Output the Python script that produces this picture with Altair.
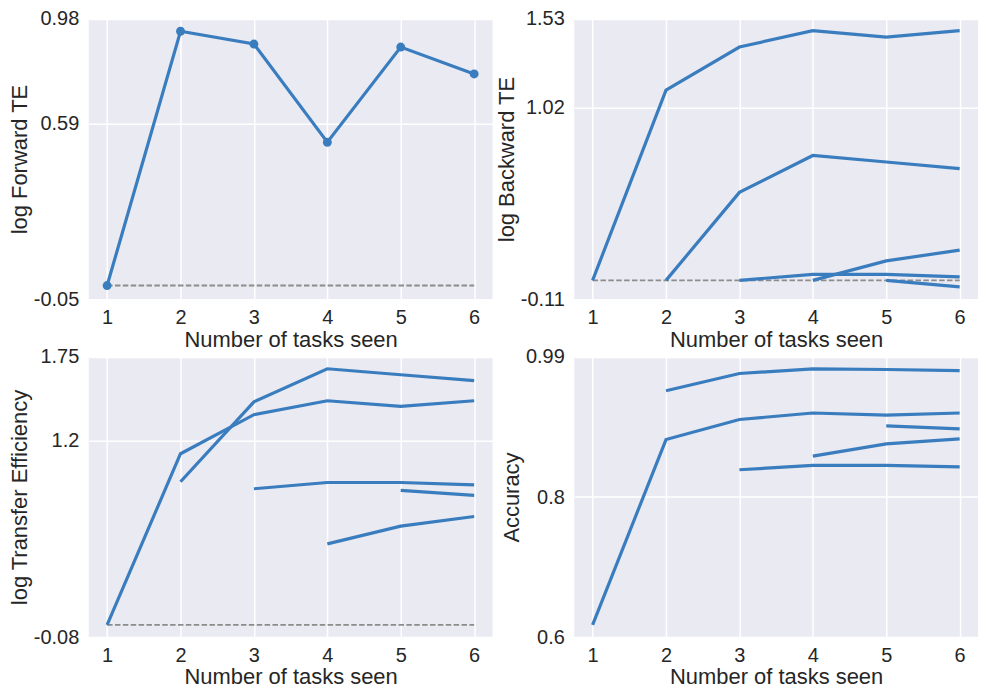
import altair as alt
import pandas as pd

# ---------------- data ----------------
tasks_seen = [1, 2, 3, 4, 5, 6]

# Panel 1: log forward TE (one value per task)
fte_values = [0.0, 0.935, 0.888, 0.527, 0.877, 0.778]

# Panel 2: log backward TE, one series per task (starting when the task is seen)
bte_task1 = [0.0, 1.114, 1.366, 1.462, 1.424, 1.462]
bte_task2 = [0.0, 0.515, 0.731, 0.693, 0.654]
bte_task3 = [0.0, 0.035, 0.035, 0.020]
bte_task4 = [0.0, 0.114, 0.177]
bte_task5 = [0.0, -0.038]

# Panel 3: log transfer efficiency
te_task1 = [0.0, 1.118, 1.373, 1.464, 1.427, 1.464]
te_task2 = [0.935, 1.457, 1.673, 1.634, 1.595]
te_task3 = [0.889, 0.930, 0.930, 0.915]
te_task4 = [0.529, 0.645, 0.708]
te_task5 = [0.879, 0.846]

# Panel 4: accuracy
acc_task1 = [0.617, 0.875, 0.903, 0.912, 0.909, 0.912]
acc_task2 = [0.943, 0.967, 0.9735, 0.9726, 0.971]
acc_task3 = [0.833, 0.839, 0.839, 0.837]
acc_task4 = [0.852, 0.869, 0.876]
acc_task5 = [0.894, 0.890]

# axis settings
fte_ticks, fte_labels = [-0.05, 0.594, 0.98], ["-0.05", "0.59", "0.98"]
bte_ticks, bte_labels = [-0.11, 1.012, 1.53], ["-0.11", "1.02", "1.53"]
te_ticks, te_labels = [-0.08, 1.204, 1.75], ["-0.08", "1.2", "1.75"]
acc_ticks, acc_labels = [0.6, 0.795, 0.99], ["0.6", "0.8", "0.99"]

BLUE = "#3a7dbf"
GREY = "#8c8c8c"
FONT = "Liberation Sans"
TEXT = "#262626"


def series_frame(series_list):
    rows = []
    for k, vals in enumerate(series_list):
        start = k + 1
        for j, v in enumerate(vals):
            rows.append({"task": k + 1, "n": start + j, "v": v})
    return pd.DataFrame(rows)


def label_expr(ticks, labels):
    expr = f"'{labels[-1]}'"
    for i in range(len(ticks) - 2, -1, -1):
        mid = (ticks[i] + ticks[i + 1]) / 2
        expr = f"datum.value < {mid} ? '{labels[i]}' : ({expr})"
    return expr


x_enc = alt.X(
    "n:Q",
    title="Number of tasks seen",
    scale=alt.Scale(domain=[0.75, 6.25], nice=False, zero=False),
    axis=alt.Axis(values=tasks_seen, format="d"),
)

baseline = pd.DataFrame({"n": [1, 6], "v": [0.0, 0.0], "task": [0, 0]})


def panel(df, ticks, labels, ytitle, dashed=True, points=False):
    y_enc = alt.Y(
        "v:Q",
        title=ytitle,
        scale=alt.Scale(domain=[ticks[0], ticks[-1]], nice=False, zero=False),
        axis=alt.Axis(values=ticks, labelExpr=label_expr(ticks, labels)),
    )
    layers = []
    if dashed:
        layers.append(
            alt.Chart(baseline)
            .mark_line(color=GREY, strokeWidth=1.9, strokeDash=[5.5, 2.4])
            .encode(x=x_enc, y=y_enc)
        )
    layers.append(
        alt.Chart(df)
        .mark_line(color=BLUE, strokeWidth=3.2)
        .encode(x=x_enc, y=y_enc, detail="task:N")
    )
    if points:
        layers.append(
            alt.Chart(df)
            .mark_circle(color=BLUE, size=80, opacity=1)
            .encode(x=x_enc, y=y_enc)
        )
    return alt.layer(*layers).properties(width=405, height=281)


p1 = panel(
    pd.DataFrame({"task": 1, "n": tasks_seen, "v": fte_values}),
    fte_ticks, fte_labels, "log Forward TE", points=True,
)
p2 = panel(
    series_frame([bte_task1, bte_task2, bte_task3, bte_task4, bte_task5]),
    bte_ticks, bte_labels, "log Backward TE",
)
p3 = panel(
    series_frame([te_task1, te_task2, te_task3, te_task4, te_task5]),
    te_ticks, te_labels, "log Transfer Efficiency",
)
p4 = panel(
    series_frame([acc_task1, acc_task2, acc_task3, acc_task4, acc_task5]),
    acc_ticks, acc_labels, "Accuracy", dashed=False,
)

chart = (
    alt.concat(p1, p2, p3, p4, columns=2, spacing=alt.RowColnumber(row=-3, column=2))
    .properties(padding={"left": 0, "top": 0, "right": 0, "bottom": 0})
    .configure_view(fill="#EAEAF2", strokeWidth=0)
    .configure_axis(
        domain=False,
        ticks=False,
        tickSize=0,
        grid=True,
        gridColor="white",
        gridWidth=1.5,
        labelFont=FONT,
        titleFont=FONT,
        labelFontSize=20,
        titleFontSize=22,
        labelColor=TEXT,
        titleColor=TEXT,
        titleFontWeight="normal",
    )
    .configure_axisY(labelPadding=10, titlePadding=2)
    .configure_axisX(labelPadding=8, titlePadding=2)
)

chart.save("out.html", embed_options={"renderer": "svg", "actions": False})
